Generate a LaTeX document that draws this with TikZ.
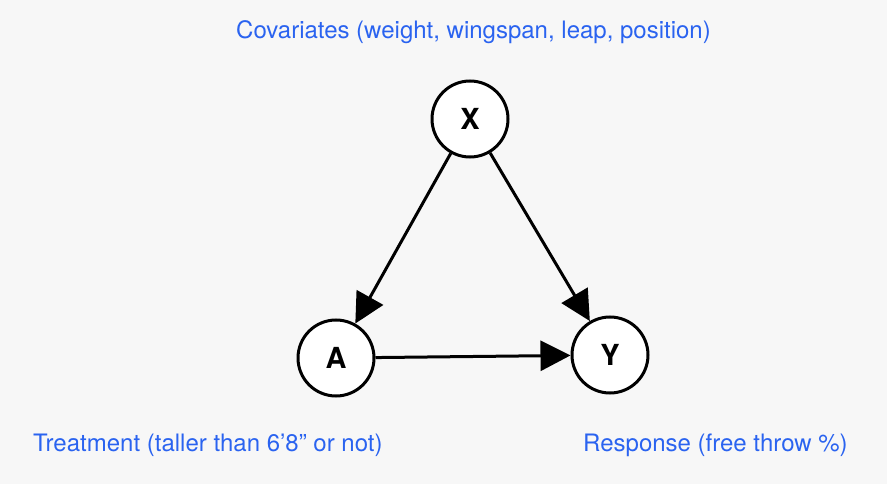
\documentclass[tikz,border=0pt]{standalone}
\usepackage{fontspec}
\setmainfont{TeX Gyre Heros}
\usetikzlibrary{arrows.meta}
\definecolor{bg}{HTML}{F7F7F7}
\definecolor{lbl}{HTML}{2A63F0}
\tikzset{
  var/.style={circle, draw=black, fill=white, line width=3pt, minimum size=76pt, inner sep=0pt, font=\fontsize{29}{32}\selectfont\bfseries},
  edge/.style={line width=3pt, -{Triangle[length=30pt,width=30pt]}},
  lab/.style={text=lbl, inner sep=0pt, font=\fontsize{24}{28}\selectfont}
}
\begin{document}
\begin{tikzpicture}[x=1pt,y=-1pt]
\fill[bg] (0,0) rectangle (887,484);
\useasboundingbox (0,0) rectangle (887,484);
\node[var] (X) at (470,119) {X};
\node[var] (A) at (336,358) {A};
\node[var] (Y) at (610,355) {Y};
\draw[edge] (X) -- (A);
\draw[edge] (X) -- (Y);
\draw[edge] (A) -- (Y);
\node[lab, anchor=west] (cov) at (236,32) {Covariates (weight, wingspan, leap, position)};
\node[lab, anchor=west] (trt) at (33,445) {Treatment (taller than 6’8” or not)};
\node[lab, anchor=west] (rsp) at (583,445) {Response (free throw \%)};
\end{tikzpicture}
\end{document}
